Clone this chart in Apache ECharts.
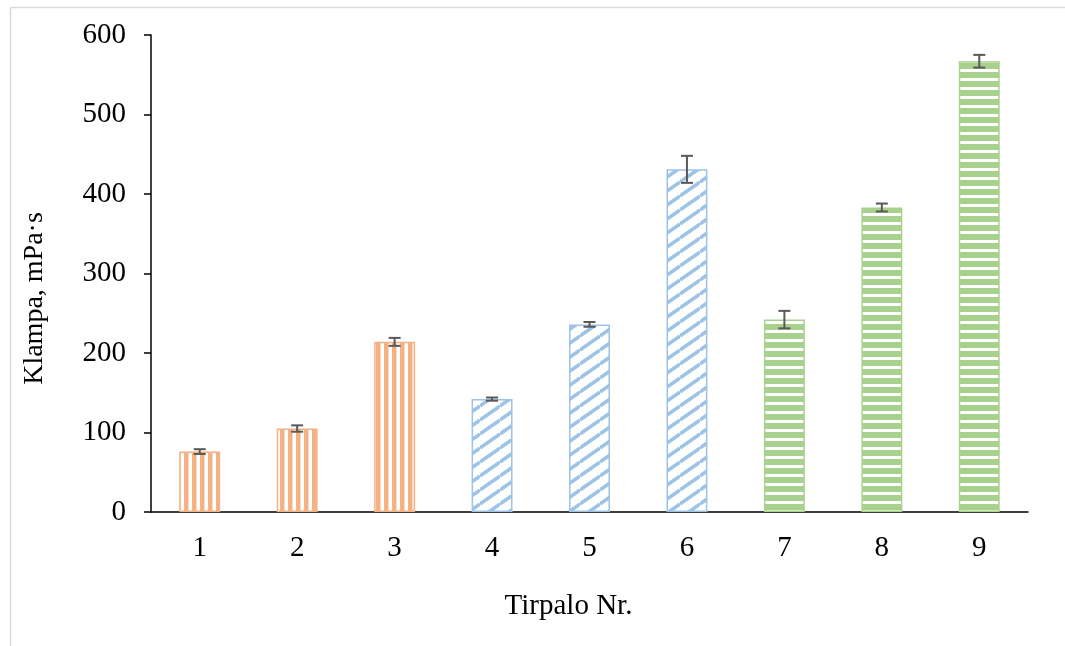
<!DOCTYPE html>
<html>
<head>
<meta charset="UTF-8">
<title>Klampa</title>
<script src="https://cdn.jsdelivr.net/npm/echarts@6/dist/echarts.min.js"></script>
<style>
  html, body { margin: 0; padding: 0; background: #fff; }
  #chart { width: 1065px; height: 646px; }
</style>
</head>
<body>
<div id="chart"></div>
<script>
// data
var categories = ['1', '2', '3', '4', '5', '6', '7', '8', '9'];
var values = [76, 105, 214, 142, 236, 431, 242, 383, 567];
var errors = [3, 4, 5, 2, 3, 17, 11, 5, 8];
var groups = [0, 0, 0, 1, 1, 1, 2, 2, 2]; // 0 oranzs, 1 zils, 2 zals
var yTicks = [0, 100, 200, 300, 400, 500, 600];

var colors = ['#F4B183', '#9DC3E6', '#A9D18E'];
var serif = '"Liberation Serif", "Times New Roman", serif';

// raksti stabiņiem
function makeTile(kind) {
  var c = document.createElement('canvas');
  var ctx = c.getContext('2d');
  if (kind == 0) { // vertikālas svītras
    c.width = 8; c.height = 8;
    ctx.fillStyle = '#fff'; ctx.fillRect(0, 0, 8, 8);
    ctx.fillStyle = colors[0]; ctx.fillRect(0, 0, 4.5, 8);
  } else if (kind == 1) { // slīpas svītras
    c.width = 20; c.height = 14;
    ctx.fillStyle = '#fff'; ctx.fillRect(0, 0, 20, 14);
    ctx.strokeStyle = colors[1]; ctx.lineWidth = 3.5;
    for (var k = -1; k <= 1; k++) {
      ctx.beginPath();
      ctx.moveTo(0, 14 + k * 14);
      ctx.lineTo(20, 0 + k * 14);
      ctx.stroke();
    }
  } else { // horizontālas svītras
    c.width = 8; c.height = 9;
    ctx.fillStyle = '#fff'; ctx.fillRect(0, 0, 8, 9);
    ctx.fillStyle = colors[2]; ctx.fillRect(0, 0, 8, 6);
  }
  return c;
}
var tiles = [makeTile(0), makeTile(1), makeTile(2)];

var barData = values.map(function (v, i) {
  return {
    value: v,
    itemStyle: {
      color: { image: tiles[groups[i]], repeat: 'repeat' },
      borderColor: colors[groups[i]],
      borderWidth: 1.5
    }
  };
});

var errData = values.map(function (v, i) {
  return [i, v - errors[i], v + errors[i]];
});

var chart = echarts.init(document.getElementById('chart'));
chart.setOption({
  animation: false,
  backgroundColor: '#fff',
  textStyle: { fontFamily: serif },
  graphic: [{
    type: 'rect',
    shape: { x: 10.5, y: 7.5, width: 1100, height: 700 },
    style: { fill: 'none', stroke: '#d9d9d9', lineWidth: 1.5 },
    silent: true
  }],
  grid: { left: 151, right: 37, top: 35, bottom: 134 },
  xAxis: {
    type: 'category',
    data: categories,
    name: 'Tirpalo Nr.',
    nameLocation: 'middle',
    nameGap: 80,
    nameTextStyle: { fontSize: 29, color: '#000', fontFamily: serif, padding: [0, 42, 0, 0] },
    axisLine: { lineStyle: { color: '#000', width: 1.5 } },
    axisTick: { show: false },
    axisLabel: { fontSize: 29, color: '#000', margin: 22, fontFamily: serif }
  },
  yAxis: {
    type: 'value',
    min: yTicks[0],
    max: yTicks[yTicks.length - 1],
    interval: 100,
    name: 'Klampa, mPa·s',
    nameLocation: 'middle',
    nameGap: 102,
    nameTextStyle: { fontSize: 28, color: '#000', fontFamily: serif, padding: [0, 50, 0, 0] },
    axisLine: { show: true, lineStyle: { color: '#000', width: 1.5 } },
    axisTick: { show: true, length: 7, lineStyle: { color: '#000', width: 1.5 } },
    splitLine: { show: false },
    axisLabel: { fontSize: 29, color: '#000', margin: 25, fontFamily: serif }
  },
  series: [{
    type: 'bar',
    data: barData,
    barWidth: '42%'
  }, {
    type: 'custom',
    data: errData,
    z: 10,
    renderItem: function (params, api) {
      var lo = api.coord([api.value(0), api.value(1)]);
      var hi = api.coord([api.value(0), api.value(2)]);
      var w = 6;
      var st = { stroke: '#595959', lineWidth: 2 };
      return {
        type: 'group',
        children: [
          { type: 'line', shape: { x1: lo[0], y1: lo[1], x2: hi[0], y2: hi[1] }, style: st },
          { type: 'line', shape: { x1: lo[0] - w, y1: lo[1], x2: lo[0] + w, y2: lo[1] }, style: st },
          { type: 'line', shape: { x1: hi[0] - w, y1: hi[1], x2: hi[0] + w, y2: hi[1] }, style: st }
        ]
      };
    }
  }]
});
</script>
</body>
</html>
